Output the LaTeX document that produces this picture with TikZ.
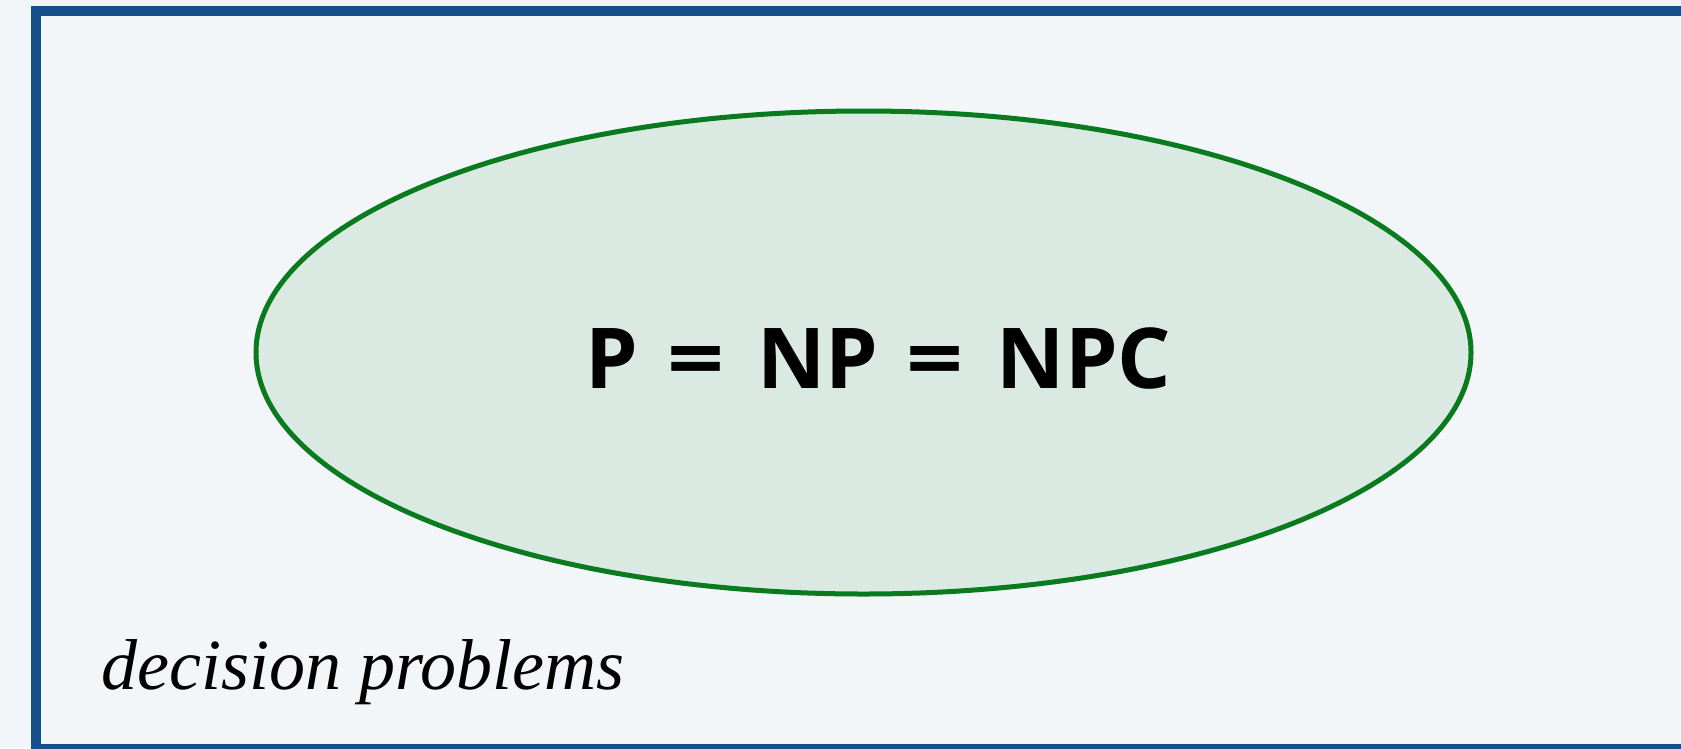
\documentclass[tikz,border=0pt]{standalone}
\usepackage{fontspec}
\setmainfont{Liberation Serif}
\newfontfamily\labelsans{Open Sans}
\definecolor{bgcol}{RGB}{242,246,249}
\definecolor{framecol}{RGB}{22,80,138}
\definecolor{ellfill}{RGB}{218,234,226}
\definecolor{elldraw}{RGB}{10,122,30}
\newcommand{\wideeq}{\hspace{7pt}\scalebox{1.19}[1]{=}\hspace{11pt}}
\tikzset{
  framebox/.style={draw=framecol, line width=10pt},
  setellipse/.style={draw=elldraw, fill=ellfill, line width=5pt},
  bigtext/.style={font=\labelsans\bfseries\fontsize{84}{90}\selectfont, inner sep=0pt, anchor=base},
  caption/.style={font=\itshape\fontsize{72}{76}\selectfont, inner sep=0pt, anchor=base west}
}
\begin{document}
\begin{tikzpicture}[x=1pt,y=-1pt]
\useasboundingbox (0,0) rectangle (1681,748);
\clip (0,0) rectangle (1681,748);
\fill[bgcol] (0,0) rectangle (1681,748);
\draw[framebox] (36,11) rectangle (1700,749);
\path[setellipse] (863.5,352.5) ellipse [x radius=607.5, y radius=241.5];
\node[bigtext] (eq) at (878.5,388) {P \wideeq{} NP \wideeq{} NPC};
\node[caption] (dp) at (101,689) {decision problems};
\end{tikzpicture}
\end{document}
